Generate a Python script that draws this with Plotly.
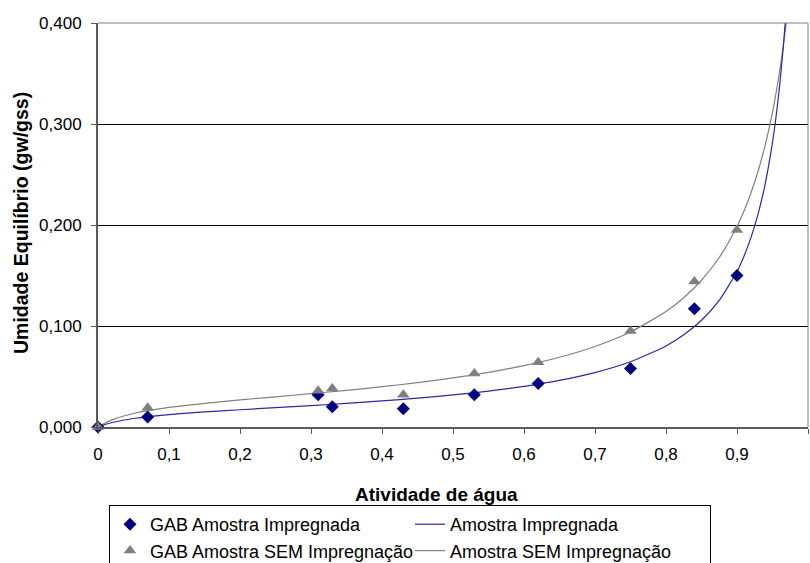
import plotly.graph_objects as go

# Measured equilibrium moisture (GAB points)
aw_points = [0.00, 0.07, 0.31, 0.33, 0.43, 0.53, 0.62, 0.75, 0.84, 0.90]
moist_impregnada = [0.000, 0.010, 0.032, 0.020, 0.018, 0.032, 0.043, 0.058, 0.117, 0.150]
moist_sem = [0.000, 0.019, 0.036, 0.038, 0.032, 0.053, 0.064, 0.095, 0.144, 0.195]

# Fitted isotherm curves
aw_curve = [0, 0.01, 0.02, 0.035, 0.05, 0.07, 0.1, 0.15, 0.2, 0.25, 0.3, 0.35, 0.4,
            0.45, 0.5, 0.55, 0.6, 0.65, 0.7, 0.75, 0.8, 0.825, 0.85, 0.875, 0.9,
            0.91, 0.92, 0.93, 0.94, 0.95, 0.955, 0.96, 0.965, 0.97, 0.975]
curve_impregnada = [0, 0.00249, 0.00443, 0.00667, 0.00839, 0.01020, 0.01228, 0.01492,
                    0.01710, 0.01915, 0.02121, 0.02339, 0.02580, 0.02854, 0.03172,
                    0.03552, 0.04019, 0.04610, 0.05386, 0.06455, 0.08025, 0.09126,
                    0.10567, 0.12539, 0.15399, 0.16940, 0.18821, 0.21167, 0.24177,
                    0.28177, 0.30716, 0.33756, 0.37460, 0.42073, 0.47978]
curve_sem = [0, 0.00401, 0.00711, 0.01065, 0.01336, 0.01618, 0.01941, 0.02347, 0.02681,
             0.02991, 0.03302, 0.03629, 0.03988, 0.04391, 0.04857, 0.05408, 0.06075,
             0.06906, 0.07975, 0.09408, 0.11435, 0.12802, 0.14531, 0.16785, 0.19853,
             0.21413, 0.23238, 0.25398, 0.27997, 0.31183, 0.33062, 0.35182, 0.37589,
             0.40348, 0.43543]

x_ticks = [0, 0.1, 0.2, 0.3, 0.4, 0.5, 0.6, 0.7, 0.8, 0.9, 1.0]
x_tick_labels = ["0", "0,1", "0,2", "0,3", "0,4", "0,5", "0,6", "0,7", "0,8", "0,9", "1"]
y_ticks = [0, 0.1, 0.2, 0.3, 0.4]

FONT = "Liberation Sans, Arial, sans-serif"
NAVY = "#000080"
GRAY = "#808080"

fig = go.Figure()

fig.add_trace(go.Scatter(
    x=aw_curve, y=curve_sem, mode="lines", name="Amostra SEM Impregnação",
    line=dict(color=GRAY, width=1.2, shape="spline", smoothing=0.6), legendrank=4))
fig.add_trace(go.Scatter(
    x=aw_curve, y=curve_impregnada, mode="lines", name="Amostra Impregnada",
    line=dict(color="#2a2aa8", width=1.2, shape="spline", smoothing=0.6), legendrank=2))
fig.add_trace(go.Scatter(
    x=aw_points, y=moist_impregnada, mode="markers", name="GAB Amostra Impregnada",
    marker=dict(symbol="diamond", size=10, color=NAVY), cliponaxis=False, legendrank=1))
fig.add_trace(go.Scatter(
    x=aw_points, y=moist_sem, mode="markers", name="GAB Amostra SEM Impregnação",
    marker=dict(symbol="triangle-up", size=11, color=GRAY), cliponaxis=False, legendrank=3))

fig.update_layout(
    width=810, height=563,
    margin=dict(l=98, r=2, t=23, b=136, autoexpand=False),
    paper_bgcolor="white", plot_bgcolor="white",
    separators=",.",
    font=dict(family=FONT, size=17, color="black"),
    showlegend=True,
    legend=dict(
        orientation="h", xref="container", yref="container",
        x=109 / 810, y=1 - 505 / 563, xanchor="left", yanchor="top",
        entrywidth=255, entrywidthmode="pixels",
        bgcolor="white", bordercolor="black", borderwidth=1,
        font=dict(family=FONT, size=18, color="black"),
        traceorder="normal",
    ),
    xaxis=dict(
        range=[0, 1], tickvals=x_ticks, ticktext=x_tick_labels,
        showgrid=False, zeroline=False,
        showline=True, linecolor="#5a5a5a", linewidth=2,
        ticks="outside", ticklen=5, tickcolor="#5a5a5a", tickwidth=1,
        tickfont=dict(size=17), ticklabelstandoff=6,
    ),
    yaxis=dict(
        range=[0, 0.4], tickvals=y_ticks, tickformat=".3f",
        showgrid=True, gridcolor="black", gridwidth=1, zeroline=False,
        showline=True, linecolor="#5a5a5a", linewidth=2,
        ticks="outside", ticklen=5, tickcolor="#5a5a5a", tickwidth=1,
        tickfont=dict(size=17), ticklabelstandoff=6,
    ),
)

# Plot-area frame on the top and right sides
fig.add_shape(type="line", xref="x domain", yref="y domain", x0=0, x1=1, y0=1, y1=1,
              line=dict(color=GRAY, width=1), layer="above")
fig.add_shape(type="line", xref="x domain", yref="y domain", x0=1, x1=1, y0=0, y1=1,
              line=dict(color=GRAY, width=1), layer="above")

# Axis titles
fig.add_annotation(text="<b>Atividade de água</b>", xref="paper", yref="paper",
                   x=(436 - 98) / 710, y=(427 - 495) / 404, xanchor="center", yanchor="middle",
                   showarrow=False, font=dict(family=FONT, size=19, color="black"))
fig.add_annotation(text="<b>Umidade Equilíbrio (gw/gss)</b>", xref="paper", yref="paper",
                   x=(20.5 - 98) / 710, y=(427 - 223.5) / 404, xanchor="center", yanchor="middle",
                   textangle=-90, showarrow=False, font=dict(family=FONT, size=19.5, color="black"))

fig.write_html("out.html")
